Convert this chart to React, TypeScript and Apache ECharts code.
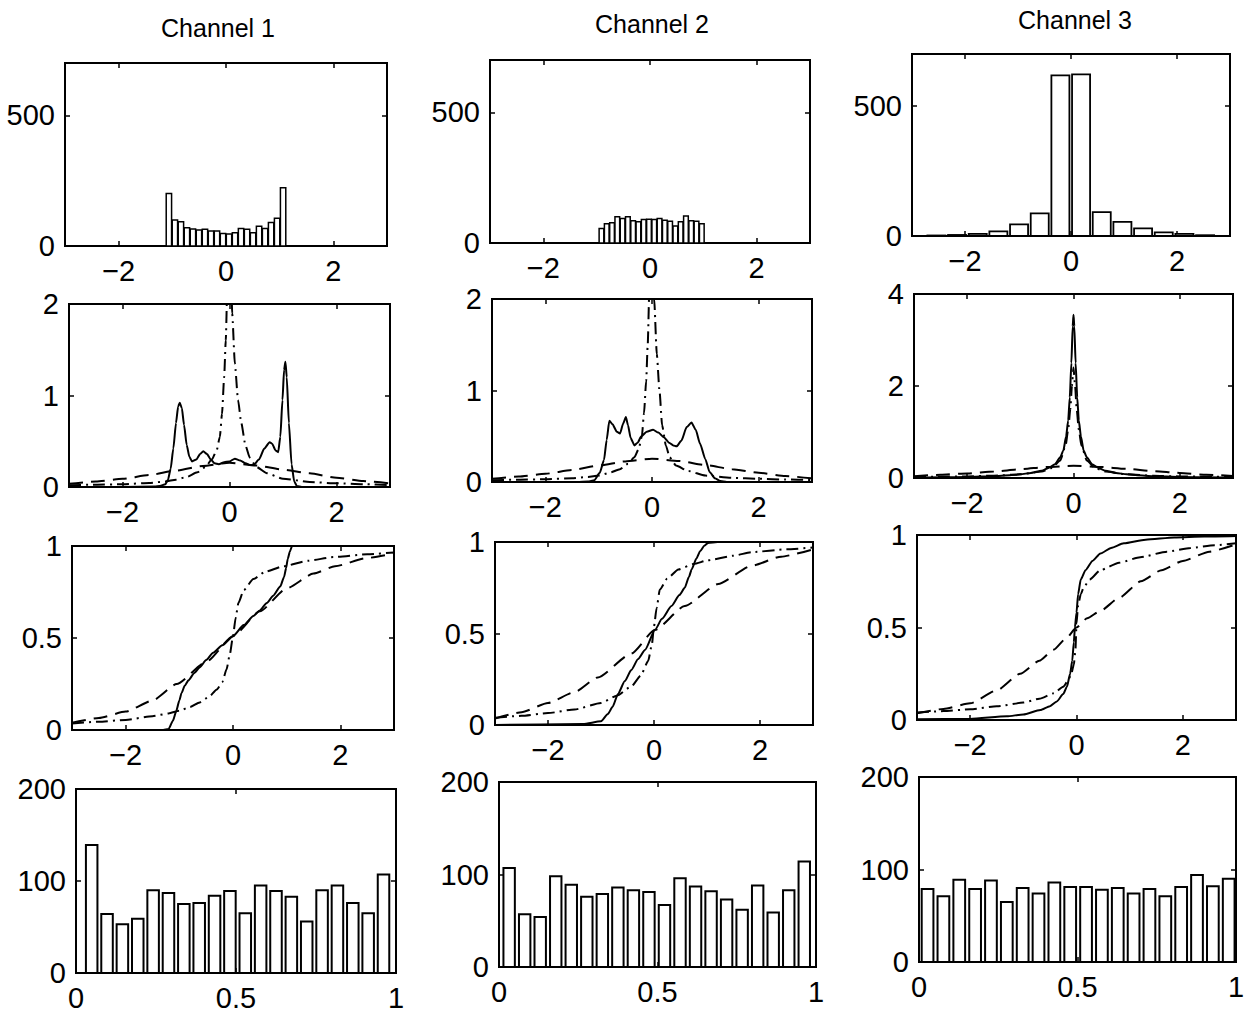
import React, { useEffect, useRef } from "react";
import * as echarts from "echarts";

// ---------- titles & ticks ----------
const channelTitles = ["Channel 1", "Channel 2", "Channel 3"];
const xTicksWide = [-2, 0, 2];
const xTicksUnit = [0, 0.5, 1];
const yTicksHist = [0, 500];
const yTicksPdf = [0, 1, 2];
const yTicksPdf3 = [0, 2, 4];
const yTicksCdf = [0, 0.5, 1];
const yTicksUni = [0, 100, 200];

// ---------- row 1: histograms of the sources ----------
const histCenters1 = [-1.064, -0.952, -0.84, -0.728, -0.616, -0.504, -0.392, -0.28, -0.168, -0.056, 0.056, 0.168, 0.28, 0.392, 0.504, 0.616, 0.728, 0.84, 0.952, 1.064];
const histCounts1 = [201, 99, 93, 70, 65, 61, 64, 57, 57, 48, 46, 51, 67, 64, 51, 76, 67, 90, 106, 223];
const histCenters2 = [-0.91, -0.811, -0.712, -0.613, -0.514, -0.415, -0.316, -0.217, -0.118, -0.019, 0.08, 0.179, 0.278, 0.377, 0.476, 0.575, 0.674, 0.773, 0.872, 0.971];
const histCounts2 = [55, 74, 77, 100, 94, 100, 85, 81, 90, 91, 90, 94, 87, 83, 65, 81, 103, 85, 83, 74];
const histCenters3 = [-2.54, -2.15, -1.76, -1.37, -0.98, -0.59, -0.2, 0.19, 0.58, 0.97, 1.36, 1.75, 2.14, 2.53];
const histCounts3 = [2, 4, 8, 18, 45, 87, 618, 622, 92, 54, 29, 14, 8, 3];

// ---------- row 2: densities (solid = estimate, dashed = broad model, dash-dot = peaked model) ----------
const pdfSolid1 = [[-3, 0], [-2, 0], [-1.4, 0.005], [-1.3, 0.01], [-1.2, 0.03], [-1.15, 0.08], [-1.1, 0.2], [-1.05, 0.42], [-1.0, 0.7], [-0.96, 0.88], [-0.93, 0.92], [-0.89, 0.86], [-0.85, 0.68], [-0.8, 0.46], [-0.75, 0.33], [-0.7, 0.28], [-0.62, 0.3], [-0.55, 0.36], [-0.49, 0.39], [-0.42, 0.36], [-0.35, 0.3], [-0.28, 0.26], [-0.2, 0.25], [-0.1, 0.27], [0, 0.28], [0.1, 0.31], [0.2, 0.29], [0.3, 0.26], [0.38, 0.24], [0.45, 0.24], [0.55, 0.3], [0.65, 0.42], [0.75, 0.49], [0.8, 0.47], [0.86, 0.4], [0.91, 0.38], [0.95, 0.55], [0.99, 0.95], [1.02, 1.28], [1.045, 1.37], [1.07, 1.2], [1.11, 0.7], [1.16, 0.25], [1.21, 0.06], [1.26, 0.01], [1.35, 0], [3, 0]];
const pdfDash1 = [[-3, 0.035], [-2.5, 0.06], [-2, 0.09], [-1.5, 0.13], [-1, 0.18], [-0.5, 0.23], [0, 0.265], [0.5, 0.235], [1, 0.19], [1.5, 0.15], [2, 0.1], [2.5, 0.065], [3, 0.04]];
const pdfDashDot1 = [[-3, 0.02], [-2.5, 0.025], [-2, 0.03], [-1.5, 0.045], [-1.2, 0.06], [-1, 0.08], [-0.8, 0.11], [-0.6, 0.16], [-0.45, 0.22], [-0.33, 0.3], [-0.24, 0.4], [-0.18, 0.55], [-0.14, 0.8], [-0.1, 1.2], [-0.07, 1.6], [-0.04, 2.2], [-0.01, 3.2], [0.01, 3.2], [0.05, 1.9], [0.1, 1.35], [0.16, 0.95], [0.22, 0.7], [0.3, 0.45], [0.38, 0.32], [0.5, 0.22], [0.7, 0.15], [1, 0.09], [1.5, 0.055], [2, 0.04], [2.5, 0.03], [3, 0.022]];

const pdfSolid2 = [[-3, 0], [-1.4, 0], [-1.2, 0.005], [-1.08, 0.02], [-0.98, 0.1], [-0.9, 0.24], [-0.85, 0.46], [-0.8, 0.67], [-0.74, 0.63], [-0.66, 0.55], [-0.6, 0.53], [-0.54, 0.64], [-0.49, 0.71], [-0.45, 0.62], [-0.4, 0.48], [-0.33, 0.4], [-0.27, 0.43], [-0.2, 0.5], [-0.1, 0.55], [0.02, 0.57], [0.12, 0.54], [0.22, 0.49], [0.32, 0.43], [0.4, 0.4], [0.46, 0.39], [0.55, 0.45], [0.65, 0.6], [0.74, 0.65], [0.82, 0.57], [0.9, 0.42], [1.0, 0.25], [1.08, 0.11], [1.18, 0.04], [1.28, 0.01], [1.4, 0], [3, 0]];
const pdfDash2 = [[-3, 0.035], [-2.5, 0.06], [-2, 0.09], [-1.5, 0.13], [-1, 0.18], [-0.5, 0.225], [0, 0.255], [0.5, 0.23], [1, 0.185], [1.5, 0.14], [2, 0.1], [2.5, 0.065], [3, 0.04]];
const pdfDashDot2 = [[-3, 0.02], [-2.5, 0.025], [-2, 0.03], [-1.5, 0.04], [-1.2, 0.055], [-1, 0.07], [-0.8, 0.1], [-0.6, 0.14], [-0.45, 0.2], [-0.33, 0.27], [-0.25, 0.36], [-0.19, 0.5], [-0.15, 0.75], [-0.11, 1.1], [-0.08, 1.5], [-0.05, 2.1], [-0.02, 3.2], [0.0, 3.2], [0.04, 2.0], [0.09, 1.4], [0.14, 1.0], [0.19, 0.62], [0.26, 0.4], [0.33, 0.27], [0.45, 0.18], [0.68, 0.12], [1.0, 0.07], [1.5, 0.045], [2, 0.035], [2.5, 0.027], [3, 0.022]];

const pdfSolid3 = [[-3, 0.01], [-2.5, 0.015], [-2, 0.02], [-1.5, 0.04], [-1.2, 0.06], [-1, 0.08], [-0.8, 0.11], [-0.6, 0.16], [-0.45, 0.23], [-0.35, 0.3], [-0.25, 0.45], [-0.19, 0.6], [-0.14, 0.9], [-0.1, 1.25], [-0.07, 1.75], [-0.04, 2.5], [-0.015, 3.3], [0, 3.55], [0.015, 3.3], [0.04, 2.5], [0.07, 1.75], [0.1, 1.25], [0.14, 0.9], [0.19, 0.6], [0.25, 0.45], [0.35, 0.3], [0.45, 0.23], [0.6, 0.16], [0.8, 0.11], [1, 0.08], [1.2, 0.06], [1.5, 0.04], [2, 0.02], [2.5, 0.015], [3, 0.01]];
const pdfDash3 = [[-3, 0.04], [-2.5, 0.07], [-2, 0.1], [-1.5, 0.14], [-1, 0.19], [-0.5, 0.24], [0, 0.265], [0.5, 0.24], [1, 0.2], [1.5, 0.15], [2, 0.11], [2.5, 0.07], [3, 0.045]];
const pdfDashDot3 = [[-3, 0.02], [-2.5, 0.028], [-2, 0.035], [-1.5, 0.05], [-1, 0.08], [-0.6, 0.14], [-0.4, 0.22], [-0.25, 0.38], [-0.15, 0.7], [-0.1, 1.05], [-0.06, 1.5], [-0.03, 2.0], [0, 2.4], [0.03, 2.0], [0.06, 1.5], [0.1, 1.05], [0.15, 0.7], [0.25, 0.38], [0.4, 0.22], [0.6, 0.14], [1, 0.08], [1.5, 0.05], [2, 0.035], [2.5, 0.028], [3, 0.02]];

// ---------- row 3: cumulative distributions ----------
const cdfSolid1 = [[-3, 0], [-1.3, 0], [-1.2, 0.005], [-1.12, 0.05], [-1.06, 0.1], [-1.0, 0.16], [-0.96, 0.2], [-0.9, 0.24], [-0.83, 0.27], [-0.72, 0.31], [-0.62, 0.34], [-0.5, 0.38], [-0.37, 0.42], [-0.2, 0.46], [0, 0.51], [0.2, 0.57], [0.38, 0.62], [0.5, 0.65], [0.63, 0.69], [0.75, 0.73], [0.88, 0.78], [0.95, 0.83], [0.99, 0.88], [1.02, 0.93], [1.06, 0.97], [1.1, 1.0], [3, 1.0]];
const cdfDash1 = [[-3, 0.04], [-2.5, 0.065], [-2, 0.1], [-1.5, 0.16], [-1.05, 0.25], [-0.5, 0.37], [0, 0.51], [0.5, 0.645], [1, 0.77], [1.5, 0.85], [1.9, 0.89], [2.5, 0.935], [3, 0.96]];
const cdfDashDot1 = [[-3, 0.035], [-2.5, 0.045], [-2, 0.055], [-1.5, 0.075], [-1.2, 0.09], [-1, 0.105], [-0.8, 0.125], [-0.62, 0.15], [-0.45, 0.18], [-0.3, 0.22], [-0.2, 0.26], [-0.12, 0.33], [-0.06, 0.41], [0, 0.51], [0.05, 0.61], [0.1, 0.69], [0.2, 0.76], [0.38, 0.82], [0.6, 0.86], [0.94, 0.89], [1.4, 0.92], [1.88, 0.94], [2.5, 0.955], [3, 0.965]];

const cdfSolid2 = [[-3, 0], [-1.34, 0.005], [-1.0, 0.02], [-0.87, 0.06], [-0.78, 0.1], [-0.68, 0.17], [-0.55, 0.24], [-0.43, 0.3], [-0.3, 0.36], [-0.17, 0.41], [0.02, 0.52], [0.15, 0.58], [0.33, 0.65], [0.48, 0.71], [0.58, 0.75], [0.66, 0.81], [0.71, 0.85], [0.8, 0.91], [0.87, 0.95], [0.95, 0.98], [1.02, 0.995], [1.2, 1.0], [3, 1.0]];
const cdfDash2 = [[-3, 0.035], [-2.5, 0.07], [-2, 0.12], [-1.5, 0.18], [-1.06, 0.26], [-0.43, 0.39], [0.02, 0.52], [0.58, 0.65], [1.21, 0.77], [1.84, 0.87], [2.4, 0.92], [3, 0.96]];
const cdfDashDot2 = [[-3, 0.04], [-2.5, 0.05], [-2, 0.065], [-1.5, 0.085], [-1, 0.12], [-0.7, 0.16], [-0.43, 0.21], [-0.25, 0.27], [-0.11, 0.35], [-0.04, 0.44], [0, 0.54], [0.05, 0.64], [0.11, 0.74], [0.25, 0.8], [0.46, 0.85], [0.75, 0.88], [1.02, 0.9], [1.5, 0.925], [1.85, 0.945], [2.5, 0.96], [3, 0.97]];

const cdfSolid3 = [[-3, 0.004], [-2, 0.006], [-1.31, 0.02], [-1, 0.03], [-0.68, 0.054], [-0.5, 0.075], [-0.37, 0.1], [-0.25, 0.14], [-0.18, 0.18], [-0.12, 0.25], [-0.08, 0.32], [-0.05, 0.42], [-0.03, 0.5], [0, 0.58], [0.03, 0.68], [0.08, 0.76], [0.17, 0.81], [0.3, 0.86], [0.45, 0.9], [0.65, 0.93], [0.89, 0.955], [1.3, 0.975], [1.84, 0.987], [2.4, 0.992], [3, 0.995]];
const cdfDash3 = [[-3, 0.036], [-2.5, 0.06], [-2, 0.09], [-1.5, 0.16], [-1.06, 0.25], [-0.7, 0.32], [-0.43, 0.38], [-0.2, 0.44], [0, 0.5], [0.2, 0.55], [0.45, 0.59], [0.8, 0.66], [1.21, 0.75], [1.6, 0.81], [2, 0.86], [2.5, 0.91], [3, 0.95]];
const cdfDashDot3 = [[-3, 0.04], [-2.5, 0.048], [-2, 0.058], [-1.5, 0.074], [-1, 0.094], [-0.7, 0.115], [-0.43, 0.144], [-0.25, 0.18], [-0.11, 0.234], [-0.05, 0.3], [-0.02, 0.38], [0, 0.52], [0.03, 0.62], [0.08, 0.68], [0.14, 0.72], [0.25, 0.76], [0.45, 0.81], [0.8, 0.85], [1.2, 0.88], [1.7, 0.91], [2.15, 0.93], [2.6, 0.945], [3, 0.955]];

// ---------- row 4: histograms of transformed values on [0, 1] ----------
const uniCenters1 = [0.049, 0.097, 0.145, 0.193, 0.241, 0.289, 0.337, 0.385, 0.433, 0.481, 0.529, 0.577, 0.625, 0.673, 0.721, 0.769, 0.817, 0.865, 0.913, 0.961];
const uniCounts1 = [139, 64, 53, 59, 90, 87, 75, 76, 84, 89, 65, 95, 89, 83, 56, 90, 95, 76, 65, 107];
const uniCenters2 = [0.032, 0.081, 0.13, 0.179, 0.228, 0.277, 0.326, 0.375, 0.424, 0.473, 0.522, 0.571, 0.62, 0.669, 0.718, 0.767, 0.816, 0.865, 0.914, 0.963];
const uniCounts2 = [107, 57, 54, 98, 89, 76, 79, 86, 83, 81, 67, 96, 87, 82, 73, 62, 88, 59, 83, 114];
const uniCenters3 = [0.027, 0.077, 0.127, 0.177, 0.227, 0.277, 0.327, 0.377, 0.427, 0.477, 0.527, 0.577, 0.627, 0.677, 0.727, 0.777, 0.827, 0.877, 0.927, 0.977];
const uniCounts3 = [79, 71, 89, 79, 88, 65, 80, 74, 86, 81, 81, 78, 80, 74, 79, 71, 81, 94, 82, 90];

// ---------- layout (left, top, width, height) of each panel ----------
const PANELS = [
  [65, 63, 322, 183], [490, 60, 320, 183], [912, 54, 318, 182],
  [69, 304, 321, 183], [492, 299, 320, 183], [914, 294, 319, 184],
  [72, 546, 322, 184], [495, 542, 318, 183], [917, 535, 319, 185],
  [76, 789, 320, 184], [499, 782, 317, 185], [919, 777, 317, 185],
];
const TITLE_POS = [[218, 28], [652, 24], [1075, 20]];

const FONT = '"Liberation Sans", Arial, Helvetica, sans-serif';
const DASHED = [14, 8];
const DASHDOT = [12, 5, 2, 5];

const fmt = (v: number) => String(v).replace("-", "\u2212");

function axes(g: number, xr: number[], xt: number[], yr: number[], yt: number[]) {
  const tick = (vals: number[]) => ({ show: true, inside: true, length: 5, customValues: vals, lineStyle: { color: "#000", width: 1.5 } });
  const line = { show: true, onZero: false, lineStyle: { color: "#000", width: 2 } };
  const label = (vals: number[], show: boolean) => ({
    show, customValues: vals, margin: 10, color: "#000", fontSize: 29, fontFamily: FONT, formatter: fmt,
  });
  const x = [
    { type: "value", gridIndex: g, min: xr[0], max: xr[1], position: "bottom", axisLine: line, axisTick: tick(xt), axisLabel: label(xt, true), splitLine: { show: false } },
    { type: "value", gridIndex: g, min: xr[0], max: xr[1], position: "top", axisLine: line, axisTick: tick(xt), axisLabel: label(xt, false), splitLine: { show: false } },
  ];
  const y = [
    { type: "value", gridIndex: g, min: yr[0], max: yr[1], position: "left", axisLine: line, axisTick: tick(yt), axisLabel: label(yt, true), splitLine: { show: false } },
    { type: "value", gridIndex: g, min: yr[0], max: yr[1], position: "right", axisLine: line, axisTick: tick(yt), axisLabel: label(yt, false), splitLine: { show: false } },
  ];
  return { x, y };
}

function barSeries(g: number, centers: number[], counts: number[], width: number, lw: number) {
  return {
    type: "custom",
    xAxisIndex: 2 * g,
    yAxisIndex: 2 * g,
    data: centers.map((c, i) => [c, counts[i]]),
    renderItem: (_p: any, api: any) => {
      const c = api.value(0);
      const v = api.value(1);
      const p0 = api.coord([c - width / 2, 0]);
      const p1 = api.coord([c + width / 2, v]);
      return {
        type: "rect",
        shape: { x: p0[0], y: p1[1], width: p1[0] - p0[0], height: p0[1] - p1[1] },
        style: { fill: "#fff", stroke: "#000", lineWidth: lw },
      };
    },
  };
}

function lineSeries(g: number, data: number[][], type: any) {
  return {
    type: "line",
    xAxisIndex: 2 * g,
    yAxisIndex: 2 * g,
    data,
    showSymbol: false,
    symbol: "none",
    smooth: 0.2,
    smoothMonotone: "x",
    clip: true,
    lineStyle: { color: "#000", width: 2, type },
  };
}

export default function App() {
  const ref = useRef<HTMLDivElement>(null);
  useEffect(() => {
    if (!ref.current) return;
    const chart = echarts.init(ref.current, null, { renderer: "svg" });
    const xAxis: any[] = [];
    const yAxis: any[] = [];
    const grid = PANELS.map(([l, t, w, h]) => ({
      left: l, top: t, width: w, height: h, show: true, borderColor: "#000", borderWidth: 2, backgroundColor: "#fff",
    }));
    const wide = [-3, 3];
    const unit = [0, 1];
    const specs: [number[], number[], number[], number[]][] = [
      [wide, xTicksWide, [0, 700], yTicksHist], [wide, xTicksWide, [0, 700], yTicksHist], [wide, xTicksWide, [0, 700], yTicksHist],
      [wide, xTicksWide, [0, 2], yTicksPdf], [wide, xTicksWide, [0, 2], yTicksPdf], [wide, xTicksWide, [0, 4], yTicksPdf3],
      [wide, xTicksWide, [0, 1], yTicksCdf], [wide, xTicksWide, [0, 1], yTicksCdf], [wide, xTicksWide, [0, 1], yTicksCdf],
      [unit, xTicksUnit, [0, 200], yTicksUni], [unit, xTicksUnit, [0, 200], yTicksUni], [unit, xTicksUnit, [0, 200], yTicksUni],
    ];
    specs.forEach((s, g) => {
      const a = axes(g, s[0], s[1], s[2], s[3]);
      xAxis.push(...a.x);
      yAxis.push(...a.y);
    });
    const series: any[] = [
      barSeries(0, histCenters1, histCounts1, 0.1, 1.5),
      barSeries(1, histCenters2, histCounts2, 0.088, 1.5),
      barSeries(2, histCenters3, histCounts3, 0.34, 1.8),
      lineSeries(3, pdfDash1, DASHED), lineSeries(3, pdfDashDot1, DASHDOT), lineSeries(3, pdfSolid1, "solid"),
      lineSeries(4, pdfDash2, DASHED), lineSeries(4, pdfDashDot2, DASHDOT), lineSeries(4, pdfSolid2, "solid"),
      lineSeries(5, pdfDash3, DASHED), lineSeries(5, pdfDashDot3, DASHDOT), lineSeries(5, pdfSolid3, "solid"),
      lineSeries(6, cdfDash1, DASHED), lineSeries(6, cdfDashDot1, DASHDOT), lineSeries(6, cdfSolid1, "solid"),
      lineSeries(7, cdfDash2, DASHED), lineSeries(7, cdfDashDot2, DASHDOT), lineSeries(7, cdfSolid2, "solid"),
      lineSeries(8, cdfDash3, DASHED), lineSeries(8, cdfDashDot3, DASHDOT), lineSeries(8, cdfSolid3, "solid"),
      barSeries(9, uniCenters1, uniCounts1, 0.036, 2),
      barSeries(10, uniCenters2, uniCounts2, 0.036, 2),
      barSeries(11, uniCenters3, uniCounts3, 0.037, 2),
    ];
    const graphic = channelTitles.map((t, i) => ({
      type: "text",
      x: TITLE_POS[i][0],
      y: TITLE_POS[i][1],
      style: { text: t, fill: "#000", font: `25px ${FONT}`, textAlign: "center", textVerticalAlign: "middle" },
    }));
    chart.setOption({
      animation: false,
      backgroundColor: "#fff",
      grid,
      xAxis,
      yAxis,
      series,
      graphic,
    });
    return () => chart.dispose();
  }, []);
  return (
    <div
      ref={ref}
      style={{ position: "absolute", left: 0, top: 0, width: 1252, height: 1013, background: "#fff" }}
    />
  );
}
